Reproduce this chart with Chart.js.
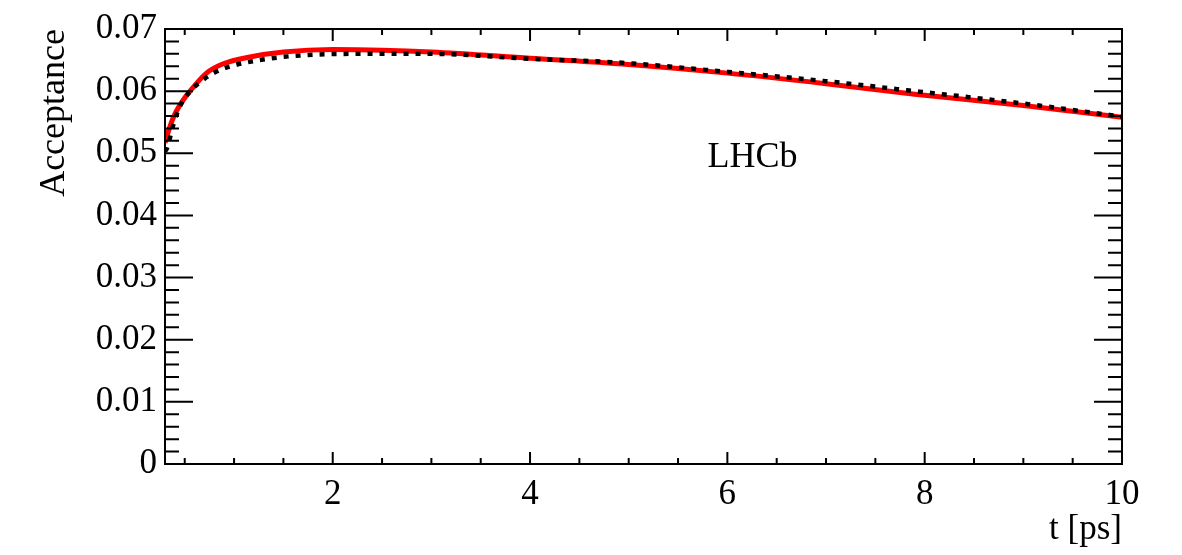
<!DOCTYPE html>
<html>
<head>
<meta charset="utf-8">
<title>Acceptance vs t</title>
<script src="https://cdn.jsdelivr.net/npm/chart.js@4"></script>
<style>
  html, body { margin: 0; padding: 0; background: #fff; }
  #wrap { width: 1182px; height: 555px; }
</style>
</head>
<body>
<div id="wrap"><canvas id="accChart" width="1182" height="555"></canvas></div>
<script>
// decay time t [ps] and acceptance
const tRed = [0.3, 0.35, 0.4, 0.49, 0.59, 0.72, 0.89, 1.16, 1.5, 2.0, 2.5, 3.0, 4.0, 4.9, 6.0, 7.0, 7.9, 9.0, 10.0];
const accRed = [0.0517, 0.0543, 0.0563, 0.0587, 0.0607, 0.0629, 0.0644, 0.0655, 0.0663, 0.0667, 0.0666, 0.0663, 0.0653, 0.0644, 0.0629, 0.0612, 0.0595, 0.0577, 0.0558];

const tDotted = [0.3, 0.32, 0.39, 0.45, 0.55, 0.66, 0.79, 0.99, 1.26, 1.63, 2.2, 3.0, 4.0, 4.9, 6.0, 7.0, 7.9, 9.0, 10.0];
const accDotted = [0.0503, 0.0508, 0.0549, 0.0575, 0.0599, 0.0615, 0.0629, 0.0641, 0.0650, 0.0657, 0.0660, 0.0660, 0.0652, 0.0646, 0.0631, 0.0616, 0.0600, 0.0580, 0.0559];

const xTickVals = [2, 4, 6, 8, 10];
const yTickVals = [0, 0.01, 0.02, 0.03, 0.04, 0.05, 0.06, 0.07];

const FONT = "'Liberation Serif', 'DejaVu Serif', serif";

// ROOT style frame with inward ticks on all four sides
const frameTicks = {
    id: 'frameTicks',
    afterDatasetsDraw(chart) {
        const { ctx, chartArea: a, scales: { x, y } } = chart;
        ctx.save();
        ctx.strokeStyle = '#000';
        ctx.lineWidth = 2;
        ctx.strokeRect(a.left, a.top, a.right - a.left, a.bottom - a.top);

        ctx.beginPath();
        // x ticks, minor every 0.5, major every 2
        for (let i = 1; i <= 20; i++) {
            const v = i * 0.5;
            if (v < x.min || v > x.max) continue;
            const px = x.getPixelForValue(v);
            const len = (i % 4 === 0) ? 12 : 6;
            ctx.moveTo(px, a.bottom); ctx.lineTo(px, a.bottom - len);
            ctx.moveTo(px, a.top); ctx.lineTo(px, a.top + len);
        }
        // y ticks, minor every 0.002, major every 0.01
        for (let i = 0; i <= 35; i++) {
            const py = y.getPixelForValue(i * 0.002);
            const len = (i % 5 === 0) ? 28 : 14;
            ctx.moveTo(a.left, py); ctx.lineTo(a.left + len, py);
            ctx.moveTo(a.right, py); ctx.lineTo(a.right - len, py);
        }
        ctx.stroke();

        ctx.fillStyle = '#000';
        ctx.font = '36px ' + FONT;
        ctx.textAlign = 'left';
        ctx.textBaseline = 'alphabetic';
        ctx.fillText('LHCb', a.left + (a.right - a.left) * 0.567, a.top + 138);
        ctx.restore();
    }
};

new Chart(document.getElementById('accChart'), {
    type: 'line',
    data: {
        datasets: [
            {
                label: 'fit',
                data: tRed.map((t, i) => ({ x: t, y: accRed[i] })),
                borderColor: '#ff0000',
                borderWidth: 5,
                pointRadius: 0,
                cubicInterpolationMode: 'monotone',
                order: 1
            },
            {
                label: 'model',
                data: tDotted.map((t, i) => ({ x: t, y: accDotted[i] })),
                borderColor: '#000000',
                borderWidth: 4.5,
                borderDash: [5, 7],
                borderCapStyle: 'butt',
                pointRadius: 0,
                cubicInterpolationMode: 'monotone',
                order: 0
            }
        ]
    },
    options: {
        responsive: false,
        animation: false,
        devicePixelRatio: 1,
        layout: { padding: { top: 27, right: 60, left: 0, bottom: 0 } },
        plugins: {
            legend: { display: false },
            tooltip: { enabled: false }
        },
        scales: {
            x: {
                type: 'linear',
                min: 0.3,
                max: 10,
                grid: { display: false, drawTicks: false },
                border: { display: false },
                afterBuildTicks: scale => { scale.ticks = xTickVals.map(v => ({ value: v })); },
                afterFit: scale => { scale.height = 91; },
                ticks: {
                    color: '#000',
                    padding: 10,
                    maxRotation: 0,
                    font: { family: FONT, size: 35 },
                    callback: v => String(v)
                },
                title: {
                    display: true,
                    text: 't [ps]',
                    align: 'end',
                    color: '#000',
                    padding: { top: 0, bottom: 4 },
                    font: { family: FONT, size: 35 }
                }
            },
            y: {
                type: 'linear',
                min: 0,
                max: 0.07,
                grid: { display: false, drawTicks: false },
                border: { display: false },
                afterBuildTicks: scale => { scale.ticks = yTickVals.map(v => ({ value: v })); },
                afterFit: scale => { scale.width = 165; },
                ticks: {
                    color: '#000',
                    padding: 8,
                    font: { family: FONT, size: 35 },
                    callback: v => v === 0 ? '0' : v.toFixed(2)
                },
                title: {
                    display: true,
                    text: 'Acceptance',
                    align: 'end',
                    color: '#000',
                    padding: { top: 33, bottom: 0 },
                    font: { family: FONT, size: 36 }
                }
            }
        }
    },
    plugins: [frameTicks]
});
</script>
</body>
</html>
